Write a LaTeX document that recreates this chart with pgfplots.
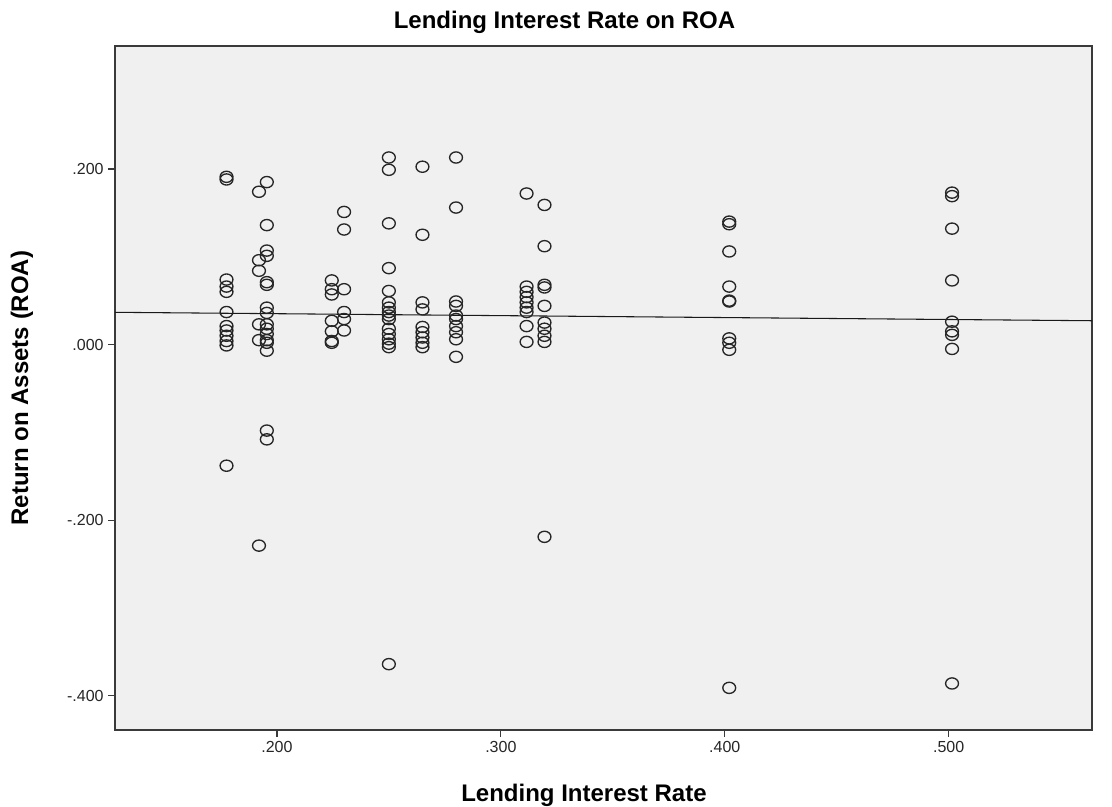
\documentclass[border=0pt]{standalone}
\usepackage{pgfplots}
\pgfplotsset{compat=1.18}
\usepackage{fontspec}
\setmainfont{Liberation Sans}
\definecolor{plotbg}{HTML}{F0F0F0}
\definecolor{framecol}{HTML}{3A3A3A}

\begin{document}
\begin{tikzpicture}[x=1pt,y=1pt]
\useasboundingbox[fill=white] (-86.25,-57) rectangle (747.75,547.5);
\begin{axis}[
  at={(0,0)}, anchor=south west, scale only axis,
  width=732.75pt, height=513pt,
  xmin=0.1277, xmax=0.564, ymin=-0.439, ymax=0.340,
  axis background/.style={fill=plotbg},
  axis line style={framecol, line width=1.1pt},
  tick style={framecol, line width=0.9pt},
  tick align=outside, major tick length=5pt,
  xtick pos=left, ytick pos=left,
  xtick={0.2,0.3,0.4,0.5}, xticklabels={.200,.300,.400,.500},
  ytick={-0.4,-0.2,0,0.2}, yticklabels={-.400,-.200,.000,.200},
  ticklabel style={font=\fontsize{12}{14}\selectfont, text=black!85},
  title={Lending Interest Rate on ROA},
  title style={font=\bfseries\fontsize{18}{21}\selectfont, at={(axis description cs:0.46,1)}, anchor=center, yshift=12pt},
  xlabel={Lending Interest Rate},
  xlabel style={font=\bfseries\fontsize{18}{21}\selectfont, at={(axis description cs:0.48,0)}, anchor=center, yshift=-49pt},
  ylabel={Return on Assets (ROA)},
  ylabel style={font=\bfseries\fontsize{18}{21}\selectfont, at={(axis description cs:-0.0952,0.5)}, anchor=center},
]
% fit line
\addplot[black!90, line width=0.8pt] coordinates {(0.1277,0.0367) (0.564,0.0271)};
% observations
\addplot[only marks, mark=o, mark size=4.2pt,
  mark options={black!85, line width=1pt, xscale=1.15}] table {
x y
0.1775 0.191
0.1775 0.188
0.1775 0.074
0.1775 0.066
0.1775 0.060
0.1775 0.037
0.1775 0.021
0.1775 0.016
0.1775 0.010
0.1775 0.004
0.1775 -0.001
0.1775 -0.138
0.1920 0.174
0.1920 0.096
0.1920 0.084
0.1920 0.023
0.1920 0.005
0.1920 -0.229
0.1955 0.185
0.1955 0.136
0.1955 0.107
0.1955 0.101
0.1955 0.071
0.1955 0.068
0.1955 0.042
0.1955 0.036
0.1955 0.023
0.1955 0.018
0.1955 0.012
0.1955 0.005
0.1955 0.002
0.1955 -0.007
0.1955 -0.098
0.1955 -0.108
0.2245 0.073
0.2245 0.063
0.2245 0.057
0.2245 0.027
0.2245 0.015
0.2245 0.004
0.2245 0.002
0.2300 0.151
0.2300 0.131
0.2300 0.063
0.2300 0.037
0.2300 0.029
0.2300 0.016
0.2500 0.213
0.2500 0.199
0.2500 0.138
0.2500 0.087
0.2500 0.061
0.2500 0.048
0.2500 0.042
0.2500 0.037
0.2500 0.033
0.2500 0.029
0.2500 0.018
0.2500 0.012
0.2500 0.006
0.2500 0.001
0.2500 -0.003
0.2500 -0.364
0.2650 0.2025
0.2650 0.125
0.2650 0.048
0.2650 0.040
0.2650 0.020
0.2650 0.014
0.2650 0.008
0.2650 0.002
0.2650 -0.003
0.2800 0.213
0.2800 0.156
0.2800 0.049
0.2800 0.044
0.2800 0.033
0.2800 0.029
0.2800 0.021
0.2800 0.014
0.2800 0.006
0.2800 -0.014
0.3115 0.172
0.3115 0.066
0.3115 0.060
0.3115 0.054
0.3115 0.048
0.3115 0.042
0.3115 0.037
0.3115 0.021
0.3115 0.003
0.3195 0.159
0.3195 0.112
0.3195 0.068
0.3195 0.065
0.3195 0.044
0.3195 0.025
0.3195 0.018
0.3195 0.010
0.3195 0.003
0.3195 -0.219
0.4020 0.140
0.4020 0.137
0.4020 0.106
0.4020 0.066
0.4020 0.050
0.4020 0.049
0.4020 0.007
0.4020 0.002
0.4020 -0.006
0.4020 -0.391
0.5015 0.173
0.5015 0.169
0.5015 0.132
0.5015 0.073
0.5015 0.026
0.5015 0.015
0.5015 0.011
0.5015 -0.005
0.5015 -0.386
};
\end{axis}
\end{tikzpicture}
\end{document}
